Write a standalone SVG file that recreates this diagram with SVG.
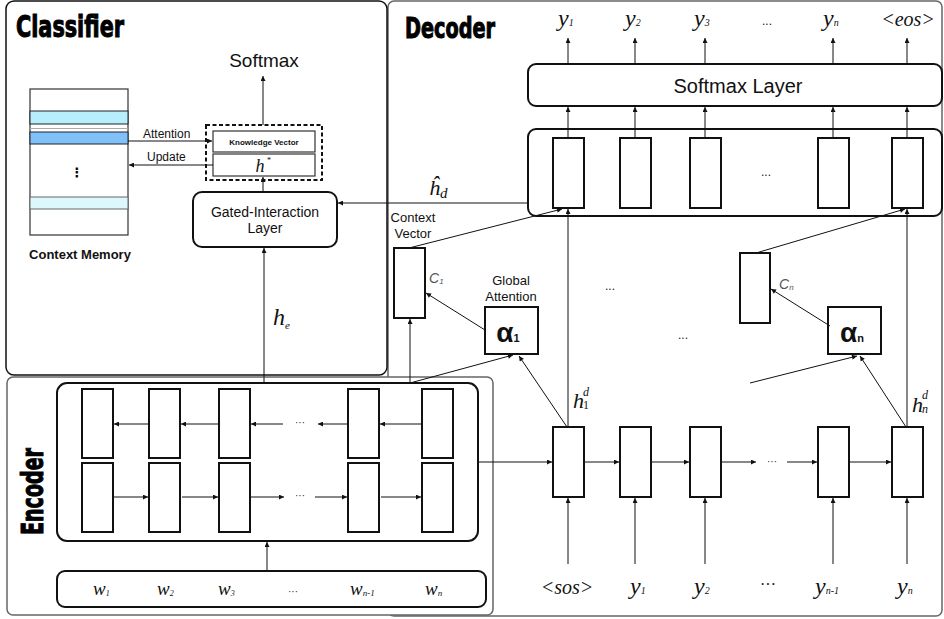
<svg xmlns="http://www.w3.org/2000/svg" width="944" height="619" viewBox="0 0 944 619">
<style>
.frame{fill:#fff;stroke:#666;stroke-width:1.5}
.box{fill:#fff;stroke:#111;stroke-width:2}
.cell{fill:#fff;stroke:#111;stroke-width:2}
.thin{fill:#fff;stroke:#333;stroke-width:1.2}
.arr{fill:none;stroke:#111;stroke-width:1;marker-end:url(#ah)}
.title{font-family:"DejaVu Sans Condensed","DejaVu Sans",sans-serif;font-weight:bold;fill:#000;stroke:#000;stroke-width:1}
.sans{font-family:"Liberation Sans",Arial,sans-serif;fill:#111}
.it{font-family:"Liberation Serif","Times New Roman",serif;font-style:italic;fill:#111}
.rom{font-family:"Liberation Serif","Times New Roman",serif;fill:#111}
.gc{font-family:"Liberation Sans",Arial,sans-serif;font-style:italic;fill:#555}
</style>
<defs>
<marker id="ah" viewBox="0 0 10 10" refX="10" refY="5" markerWidth="6" markerHeight="5" markerUnits="userSpaceOnUse" orient="auto">
<path d="M0,0 L10,5 L0,10 z" fill="#111"/>
</marker>
</defs>

<g id="decoder-frame"><rect class="frame" x="388" y="1" width="554" height="615" rx="6"/></g>
<g id="classifier-frame"><rect x="6" y="1" width="381" height="374" rx="8" fill="#fff" stroke="#111" stroke-width="1.5"/></g>
<g id="encoder-frame"><rect class="frame" x="7" y="377" width="486" height="238" rx="6" stroke="#777"/></g>

<text class="title" x="16" y="37" font-size="30" textLength="108" lengthAdjust="spacingAndGlyphs">Classifier</text>
<text class="title" x="405" y="38" font-size="28" textLength="90" lengthAdjust="spacingAndGlyphs">Decoder</text>
<text class="title" transform="translate(43,535) rotate(-90)" x="0" y="0" font-size="30" textLength="87" lengthAdjust="spacingAndGlyphs">Encoder</text>

<g id="softmax-label"><text class="sans" x="264" y="67" font-size="19" text-anchor="middle">Softmax</text></g>
<g id="context-memory">
<rect class="thin" x="30" y="89" width="98" height="146"/>
<rect x="30" y="111" width="98" height="13" fill="#b6effb" stroke="#222" stroke-width="1"/>
<line x1="30" y1="128.5" x2="128" y2="128.5" stroke="#aaa" stroke-width="1"/>
<rect x="30" y="132" width="98" height="12" fill="#80c1fa" stroke="#222" stroke-width="1"/>
<rect x="30" y="197" width="98" height="12" fill="#dcf8fd" stroke="#666" stroke-width="1"/>
<text x="77" y="177" font-family="DejaVu Sans,sans-serif" font-size="13" font-weight="bold" fill="#000" text-anchor="middle">⋮</text>
<text class="sans" x="80" y="259" font-size="13" font-weight="bold" text-anchor="middle">Context Memory</text>
</g>
<g id="knowledge">
<rect x="206" y="125" width="116" height="55" fill="none" stroke="#111" stroke-width="2" stroke-dasharray="4 2.5"/>
<rect class="thin" x="213" y="131" width="102" height="21"/>
<text class="sans" x="264" y="145" font-size="8" font-weight="bold" text-anchor="middle">Knowledge Vector</text>
<rect class="thin" x="213" y="154" width="102" height="22"/>
<text class="it" x="260" y="172" font-size="18" text-anchor="middle">h</text>
<text class="rom" x="267" y="163" font-size="8">*</text>
</g>
<g id="gated">
<rect class="box" x="193" y="192" width="144" height="55" rx="9"/>
<text class="sans" x="265" y="217" font-size="14" text-anchor="middle">Gated-Interaction</text>
<text class="sans" x="265" y="233" font-size="14" text-anchor="middle">Layer</text>
</g>

<g id="encoder-rnn">
<rect class="box" x="57" y="383" width="421" height="158" rx="10"/>
<rect class="cell" x="82" y="389" width="31" height="69"/>
<rect class="cell" x="149" y="389" width="31" height="69"/>
<rect class="cell" x="219" y="389" width="31" height="69"/>
<rect class="cell" x="348" y="389" width="31" height="69"/>
<rect class="cell" x="422" y="389" width="31" height="69"/>
<rect class="cell" x="82" y="463" width="31" height="69"/>
<rect class="cell" x="149" y="463" width="31" height="69"/>
<rect class="cell" x="219" y="463" width="31" height="69"/>
<rect class="cell" x="348" y="463" width="31" height="69"/>
<rect class="cell" x="422" y="463" width="31" height="69"/>
<text class="rom" x="300" y="426" font-size="10" text-anchor="middle">···</text>
<text class="rom" x="300" y="499" font-size="10" text-anchor="middle">···</text>
</g>
<g id="encoder-words">
<rect class="box" x="57" y="571" width="429" height="36" rx="8"/>
<text class="it" x="93" y="595" font-size="19">w<tspan font-size="8" dy="1">1</tspan></text>
<text class="it" x="157" y="595" font-size="19">w<tspan font-size="8" dy="1">2</tspan></text>
<text class="it" x="218" y="595" font-size="19">w<tspan font-size="8" dy="1">3</tspan></text>
<text class="rom" x="293" y="595" font-size="10" text-anchor="middle">···</text>
<text class="it" x="350" y="595" font-size="19">w<tspan font-size="9" dy="1">n-1</tspan></text>
<text class="it" x="425" y="595" font-size="19">w<tspan font-size="9" dy="1">n</tspan></text>
</g>

<g id="softmax-layer">
<rect class="box" x="528" y="64" width="414" height="42" rx="8"/>
<text class="sans" x="738" y="93" font-size="20" text-anchor="middle">Softmax Layer</text>
</g>
<g id="decoder-upper">
<rect class="box" x="528" y="129" width="414" height="87" rx="8"/>
<rect class="cell" x="553" y="138" width="31" height="70"/>
<rect class="cell" x="620" y="138" width="31" height="70"/>
<rect class="cell" x="690" y="138" width="31" height="70"/>
<rect class="cell" x="818" y="138" width="31" height="70"/>
<rect class="cell" x="892" y="138" width="31" height="70"/>
<text class="sans" x="766" y="176" font-size="12" text-anchor="middle">...</text>
</g>
<g id="decoder-lower">
<rect class="cell" x="553" y="427" width="31" height="70"/>
<rect class="cell" x="620" y="427" width="31" height="70"/>
<rect class="cell" x="690" y="427" width="31" height="70"/>
<rect class="cell" x="818" y="427" width="31" height="70"/>
<rect class="cell" x="892" y="427" width="31" height="70"/>
<text class="rom" x="772" y="465" font-size="10" text-anchor="middle">···</text>
</g>
<g id="outputs">
<text class="it" x="558" y="26" font-size="24">y<tspan font-size="10">1</tspan></text>
<text class="it" x="625" y="26" font-size="24">y<tspan font-size="10">2</tspan></text>
<text class="it" x="694" y="26" font-size="24">y<tspan font-size="10">3</tspan></text>
<text class="sans" x="767" y="25" font-size="12" text-anchor="middle">...</text>
<text class="it" x="823" y="26" font-size="24">y<tspan font-size="10">n</tspan></text>
<text class="it" x="908" y="26" font-size="20" text-anchor="middle">&lt;eos&gt;</text>
</g>
<g id="inputs">
<text class="it" x="567" y="594" font-size="20" text-anchor="middle">&lt;sos&gt;</text>
<text class="it" x="630" y="594" font-size="24">y<tspan font-size="10">1</tspan></text>
<text class="it" x="694" y="594" font-size="24">y<tspan font-size="10">2</tspan></text>
<text class="rom" x="768" y="590" font-size="16" text-anchor="middle">···</text>
<text class="it" x="815" y="594" font-size="24">y<tspan font-size="10">n-1</tspan></text>
<text class="it" x="897" y="594" font-size="24">y<tspan font-size="10">n</tspan></text>
</g>
<g id="context-vector-1">
<text class="sans" x="413" y="222" font-size="13" text-anchor="middle">Context</text>
<text class="sans" x="413" y="238" font-size="13" text-anchor="middle">Vector</text>
<rect class="cell" x="394" y="248" width="31" height="70"/>
<text class="gc" x="429" y="283" font-size="14">C<tspan font-size="8" dy="1">1</tspan></text>
</g>
<g id="context-vector-n">
<rect class="cell" x="740" y="253" width="30" height="70"/>
<text class="gc" x="779" y="289" font-size="14">C<tspan font-size="8" dy="1">n</tspan></text>
</g>
<g id="attention-1">
<text class="sans" x="511" y="285" font-size="13" text-anchor="middle">Global</text>
<text class="sans" x="511" y="301" font-size="13" text-anchor="middle">Attention</text>
<rect class="cell" x="485" y="307" width="53" height="47"/>
<text class="sans" x="508" y="342" font-size="28" font-weight="bold" text-anchor="middle">α<tspan font-size="11">1</tspan></text>
</g>
<g id="attention-n">
<rect class="cell" x="828" y="307" width="53" height="47"/>
<text class="sans" x="852" y="342" font-size="28" font-weight="bold" text-anchor="middle">α<tspan font-size="11">n</tspan></text>
</g>
<g id="mid-dots">
<text class="sans" x="610" y="290" font-size="12" text-anchor="middle">...</text>
<text class="sans" x="683" y="339" font-size="12" text-anchor="middle">...</text>
</g>

<g id="labels">
<text class="sans" x="143" y="138" font-size="12">Attention</text>
<text class="sans" x="147" y="161" font-size="12">Update</text>
<text class="it" x="429" y="195" font-size="22">ĥ<tspan font-size="15" dy="3">d</tspan></text>
<text class="it" x="273" y="325" font-size="24">h<tspan font-size="11" dy="4">e</tspan></text>
<text class="it" x="573" y="408" font-size="22">h</text>
<text class="it" x="583" y="396" font-size="12">d</text>
<text class="rom" x="583" y="409" font-size="12">1</text>
<text class="it" x="912" y="412" font-size="22">h</text>
<text class="it" x="922" y="399" font-size="12">d</text>
<text class="it" x="922" y="413" font-size="12">n</text>
</g>

<g id="connectors">
<path class="arr" d="M263,125 V76"/>
<path class="arr" d="M128,141 H212"/>
<path class="arr" d="M213,165 H129"/>
<path class="arr" d="M263,192 V177"/>
<path class="arr" d="M528,203 H338"/>
<path class="arr" d="M264,383 V248"/>
<path class="arr" d="M149,424 H114"/>
<path class="arr" d="M219,424 H181"/>
<path class="arr" d="M283,424 H251"/>
<path class="arr" d="M348,424 H318"/>
<path class="arr" d="M422,424 H380"/>
<path class="arr" d="M113,497 H148"/>
<path class="arr" d="M182,497 H218"/>
<path class="arr" d="M251,497 H284"/>
<path class="arr" d="M315,497 H347"/>
<path class="arr" d="M381,497 H421"/>
<path class="arr" d="M267,571 V542"/>
<path class="arr" d="M478,462 H552"/>
<path class="arr" d="M410,383 V319"/>
<path class="arr" d="M410,383 L513,355"/>
<path class="arr" d="M585,462 H619"/>
<path class="arr" d="M652,462 H689"/>
<path class="arr" d="M722,462 H756"/>
<path class="arr" d="M787,462 H817"/>
<path class="arr" d="M850,462 H891"/>
<path class="arr" d="M568,564 V498"/>
<path class="arr" d="M635,564 V498"/>
<path class="arr" d="M705,564 V498"/>
<path class="arr" d="M833,564 V498"/>
<path class="arr" d="M907,564 V498"/>
<path class="arr" d="M568,427 V209"/>
<path class="arr" d="M907,427 V209"/>
<path class="arr" d="M567,427 L519,356"/>
<path class="arr" d="M906,427 L860,356"/>
<path class="arr" d="M750,383 L857,356"/>
<path class="arr" d="M485,330 L426,293"/>
<path class="arr" d="M830,326 L771,289"/>
<path class="arr" d="M409,248 L562,209"/>
<path class="arr" d="M756,253 L905,209"/>
<path class="arr" d="M568,138 V107"/>
<path class="arr" d="M635,138 V107"/>
<path class="arr" d="M705,138 V107"/>
<path class="arr" d="M833,138 V107"/>
<path class="arr" d="M907,138 V107"/>
<path class="arr" d="M568,64 V38"/>
<path class="arr" d="M635,64 V38"/>
<path class="arr" d="M705,64 V38"/>
<path class="arr" d="M833,64 V38"/>
<path class="arr" d="M907,64 V38"/>
</g>
</svg>
